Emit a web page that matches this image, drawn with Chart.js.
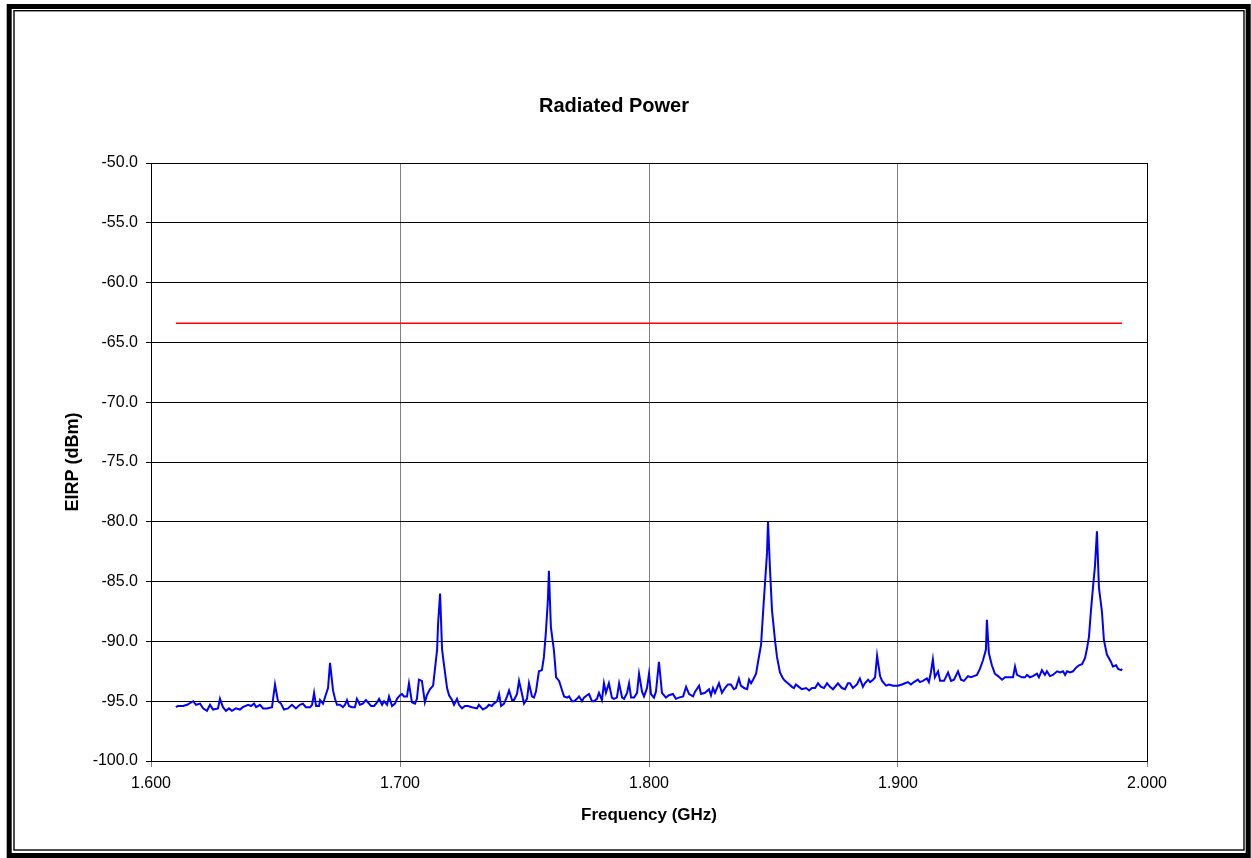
<!DOCTYPE html>
<html lang="en">
<head>
    <meta charset="UTF-8">
    <title>Radiated Power</title>
    <script src="https://cdn.jsdelivr.net/npm/chart.js"></script>
    <style>
        * { margin: 0; padding: 0; box-sizing: border-box; }
        body { background: #ffffff; width: 1251px; height: 858px; overflow: hidden; }
        #powerChart { display: block; }
    </style>
</head>
<body>
    <canvas id="powerChart" width="1251" height="858"></canvas>

    <script>
        // Measured spectrum (frequency in GHz, EIRP in dBm)
        const freqGHz = [
            1.6100, 1.6108, 1.6129, 1.6145, 1.6169, 1.6181, 1.6197, 1.6209, 1.6225, 1.6237,
            1.6249, 1.6269, 1.6277, 1.6289, 1.6301, 1.6313, 1.6325, 1.6341, 1.6357, 1.6369,
            1.6390, 1.6402, 1.6414, 1.6422, 1.6438, 1.6450, 1.6466, 1.6486, 1.6498, 1.6510,
            1.6522, 1.6534, 1.6550, 1.6566, 1.6582, 1.6598, 1.6610, 1.6622, 1.6639, 1.6647,
            1.6655, 1.6663, 1.6675, 1.6679, 1.6691, 1.6703, 1.6711, 1.6719, 1.6731, 1.6739,
            1.6747, 1.6759, 1.6771, 1.6779, 1.6787, 1.6795, 1.6807, 1.6819, 1.6827, 1.6839,
            1.6851, 1.6863, 1.6871, 1.6884, 1.6896, 1.6908, 1.6916, 1.6928, 1.6936, 1.6948,
            1.6956, 1.6968, 1.6980, 1.6988, 1.7000, 1.7008, 1.7016, 1.7028, 1.7036, 1.7048,
            1.7060, 1.7068, 1.7076, 1.7088, 1.7100, 1.7108, 1.7120, 1.7133, 1.7141, 1.7149,
            1.7153, 1.7161, 1.7169, 1.7177, 1.7189, 1.7197, 1.7209, 1.7217, 1.7229, 1.7237,
            1.7249, 1.7261, 1.7273, 1.7289, 1.7309, 1.7317, 1.7333, 1.7349, 1.7357, 1.7369,
            1.7377, 1.7390, 1.7398, 1.7406, 1.7418, 1.7430, 1.7438, 1.7450, 1.7458, 1.7470,
            1.7478, 1.7490, 1.7498, 1.7510, 1.7518, 1.7530, 1.7538, 1.7546, 1.7558, 1.7570,
            1.7578, 1.7586, 1.7594, 1.7598, 1.7606, 1.7618, 1.7627, 1.7639, 1.7651, 1.7659,
            1.7671, 1.7679, 1.7691, 1.7699, 1.7711, 1.7719, 1.7731, 1.7739, 1.7751, 1.7759,
            1.7771, 1.7779, 1.7791, 1.7799, 1.7811, 1.7819, 1.7827, 1.7839, 1.7851, 1.7859,
            1.7871, 1.7880, 1.7892, 1.7900, 1.7912, 1.7920, 1.7928, 1.7940, 1.7952, 1.7960,
            1.7972, 1.7980, 1.7992, 1.8000, 1.8008, 1.8020, 1.8028, 1.8040, 1.8052, 1.8068,
            1.8080, 1.8096, 1.8108, 1.8120, 1.8137, 1.8149, 1.8161, 1.8177, 1.8185, 1.8201,
            1.8209, 1.8225, 1.8241, 1.8249, 1.8257, 1.8265, 1.8281, 1.8293, 1.8305, 1.8317,
            1.8329, 1.8341, 1.8349, 1.8361, 1.8369, 1.8382, 1.8394, 1.8402, 1.8410, 1.8418,
            1.8430, 1.8438, 1.8450, 1.8458, 1.8466, 1.8474, 1.8478, 1.8486, 1.8494, 1.8506,
            1.8514, 1.8526, 1.8538, 1.8546, 1.8558, 1.8574, 1.8582, 1.8590, 1.8602, 1.8614,
            1.8631, 1.8643, 1.8655, 1.8667, 1.8679, 1.8691, 1.8703, 1.8715, 1.8727, 1.8739,
            1.8759, 1.8775, 1.8787, 1.8799, 1.8807, 1.8819, 1.8835, 1.8847, 1.8859, 1.8867,
            1.8880, 1.8888, 1.8900, 1.8908, 1.8916, 1.8928, 1.8936, 1.8952, 1.8964, 1.8980,
            1.9000, 1.9016, 1.9028, 1.9040, 1.9052, 1.9064, 1.9080, 1.9088, 1.9100, 1.9116,
            1.9124, 1.9132, 1.9140, 1.9148, 1.9161, 1.9169, 1.9185, 1.9201, 1.9213, 1.9225,
            1.9241, 1.9253, 1.9265, 1.9281, 1.9293, 1.9305, 1.9317, 1.9329, 1.9341, 1.9353,
            1.9357, 1.9365, 1.9377, 1.9389, 1.9402, 1.9418, 1.9430, 1.9442, 1.9462, 1.9470,
            1.9478, 1.9498, 1.9510, 1.9518, 1.9530, 1.9542, 1.9558, 1.9566, 1.9578, 1.9590,
            1.9598, 1.9610, 1.9622, 1.9639, 1.9651, 1.9663, 1.9671, 1.9679, 1.9691, 1.9703,
            1.9715, 1.9727, 1.9739, 1.9751, 1.9759, 1.9767, 1.9775, 1.9783, 1.9791, 1.9799,
            1.9807, 1.9819, 1.9827, 1.9839, 1.9855, 1.9863, 1.9876, 1.9884, 1.9896, 1.9900
        ];

        const eirpDbm = [
            -95.5, -95.4, -95.4, -95.3, -95.0, -95.3, -95.2, -95.6, -95.8, -95.3,
            -95.7, -95.6, -94.8, -95.5, -95.8, -95.6, -95.8, -95.6, -95.7, -95.5,
            -95.3, -95.4, -95.2, -95.5, -95.3, -95.6, -95.6, -95.5, -93.6, -95.0,
            -95.2, -95.7, -95.6, -95.3, -95.6, -95.3, -95.2, -95.5, -95.5, -95.3,
            -94.3, -95.4, -95.4, -94.9, -95.2, -94.4, -93.9, -91.8, -94.1, -94.8,
            -95.3, -95.3, -95.5, -95.3, -94.9, -95.4, -95.5, -95.5, -94.8, -95.3,
            -95.2, -94.9, -95.1, -95.4, -95.4, -95.1, -94.8, -95.3, -95.0, -95.3,
            -94.6, -95.4, -95.2, -94.8, -94.5, -94.4, -94.6, -94.6, -93.5, -95.1,
            -95.2, -94.8, -93.2, -93.3, -95.1, -94.5, -94.0, -93.7, -92.2, -90.7,
            -88.5, -86.0, -90.7, -92.0, -93.9, -94.5, -94.9, -95.3, -94.8, -95.3,
            -95.6, -95.4, -95.4, -95.5, -95.6, -95.3, -95.7, -95.5, -95.3, -95.4,
            -95.2, -95.0, -94.4, -95.4, -95.2, -94.6, -94.1, -94.9, -94.9, -94.4,
            -93.3, -94.4, -95.2, -94.8, -93.5, -94.6, -94.7, -94.2, -92.5, -92.4,
            -91.3, -89.2, -86.5, -84.1, -88.8, -90.7, -93.0, -93.3, -94.1, -94.6,
            -94.7, -94.6, -95.0, -95.0, -94.8, -94.6, -95.0, -94.7, -94.5, -94.4,
            -95.0, -95.0, -94.8, -94.3, -94.9, -93.5, -94.3, -93.5, -94.7, -94.8,
            -94.7, -93.5, -94.7, -94.8, -94.3, -93.5, -94.7, -94.7, -94.3, -92.7,
            -94.2, -94.6, -93.9, -92.7, -94.4, -94.7, -94.2, -91.7, -94.3, -94.7,
            -94.5, -94.4, -94.8, -94.7, -94.6, -93.8, -94.4, -94.6, -94.2, -93.7,
            -94.4, -94.3, -94.0, -94.5, -93.9, -94.3, -93.5, -94.3, -93.9, -93.6,
            -93.6, -94.0, -93.9, -93.1, -93.7, -93.9, -94.0, -93.2, -93.5, -93.2,
            -92.7, -91.7, -90.3, -87.6, -85.1, -82.6, -80.0, -84.0, -87.4, -89.9,
            -91.3, -92.6, -93.1, -93.3, -93.5, -93.8, -93.9, -93.6, -93.8, -94.0,
            -93.9, -94.1, -93.9, -93.9, -93.5, -93.8, -93.9, -93.5, -93.8, -94.0,
            -93.5, -93.9, -94.0, -93.5, -93.5, -93.9, -93.6, -93.1, -93.8, -93.5,
            -93.2, -93.4, -93.2, -93.0, -91.2, -92.9, -93.3, -93.7, -93.6, -93.7,
            -93.7, -93.6, -93.5, -93.4, -93.6, -93.4, -93.2, -93.4, -93.3, -93.1,
            -93.4, -92.6, -91.5, -93.0, -92.5, -93.3, -93.3, -92.6, -93.3, -93.2,
            -92.5, -93.2, -93.3, -92.9, -93.0, -92.9, -92.8, -92.3, -91.6, -90.7,
            -88.2, -91.0, -92.0, -92.7, -92.9, -93.2, -93.0, -93.0, -93.0, -92.1,
            -92.8, -93.0, -93.0, -92.8, -93.0, -92.9, -92.7, -93.0, -92.4, -92.8,
            -92.5, -92.9, -92.8, -92.5, -92.6, -92.5, -92.8, -92.5, -92.6, -92.5,
            -92.2, -92.0, -91.9, -91.4, -90.6, -89.6, -87.4, -85.5, -83.7, -80.8,
            -85.5, -87.5, -89.9, -91.1, -91.7, -92.1, -92.0, -92.3, -92.4, -92.3
        ];

        // Limit line
        const limitFreqGHz = [1.610, 1.990];
        const limitDbm = [-63.4, -63.4];

        // Axis ranges
        const xMin = 1.6, xMax = 2.0, xStep = 0.1;
        const yMin = -100, yMax = -50, yStep = 5;

        const toPoints = (xs, ys) => xs.map((x, i) => ({ x: x, y: ys[i] }));

        // Double frame round the page and the box round the plot area
        const framePlugin = {
            id: 'frames',
            beforeDraw(chart) {
                const ctx = chart.ctx;
                ctx.save();
                ctx.fillStyle = '#ffffff';
                ctx.fillRect(0, 0, chart.width, chart.height);
                ctx.strokeStyle = '#000000';
                ctx.lineWidth = 5;
                ctx.strokeRect(9.2, 6.5, 1239, 849);
                ctx.lineWidth = 1.4;
                ctx.strokeRect(14, 10.7, 1230, 839.3);
                ctx.restore();
            },
            afterDraw(chart) {
                const { left, top, right, bottom } = chart.chartArea;
                const ctx = chart.ctx;
                ctx.save();
                ctx.strokeStyle = '#000000';
                ctx.lineWidth = 1;
                ctx.strokeRect(Math.round(left) + 0.5, Math.round(top) + 0.5,
                    Math.round(right - left), Math.round(bottom - top));
                ctx.restore();
            }
        };

        const font = 'Liberation Sans, Arial, sans-serif';

        new Chart(document.getElementById('powerChart'), {
            type: 'line',
            data: {
                datasets: [
                    {
                        label: 'EIRP',
                        data: toPoints(freqGHz, eirpDbm),
                        borderColor: '#0000ff',
                        borderWidth: 2,
                        pointRadius: 0,
                        tension: 0,
                        fill: false
                    },
                    {
                        label: 'Limit',
                        data: toPoints(limitFreqGHz, limitDbm),
                        borderColor: '#ff0000',
                        borderWidth: 1.5,
                        pointRadius: 0,
                        tension: 0,
                        fill: false
                    }
                ]
            },
            options: {
                responsive: false,
                animation: false,
                devicePixelRatio: 1,
                // left padding shifts the centred title to where it sits in the original
                layout: { padding: { left: 81, right: 104, top: 0, bottom: 0 } },
                plugins: {
                    legend: { display: false },
                    tooltip: { enabled: false },
                    title: {
                        display: true,
                        text: 'Radiated Power',
                        color: '#000000',
                        font: { family: font, size: 20, weight: 'bold', lineHeight: 1.2 },
                        padding: { top: 94, bottom: 45 }
                    }
                },
                scales: {
                    x: {
                        type: 'linear',
                        min: xMin,
                        max: xMax,
                        afterFit: (scale) => { scale.height = 97; },
                        ticks: {
                            stepSize: xStep,
                            color: '#000000',
                            padding: 7,
                            font: { family: font, size: 16 },
                            callback: (v) => v.toFixed(3)
                        },
                        grid: { color: '#808080', lineWidth: 1, tickLength: 6 },
                        border: { display: true, color: '#000000', width: 1 },
                        title: {
                            display: true,
                            text: 'Frequency (GHz)',
                            color: '#000000',
                            font: { family: font, size: 17, weight: 'bold', lineHeight: 1.2 },
                            padding: { top: 0, bottom: 32.8 }
                        }
                    },
                    y: {
                        min: yMin,
                        max: yMax,
                        afterFit: (scale) => { scale.width = 70; },
                        ticks: {
                            stepSize: yStep,
                            color: '#000000',
                            padding: 8,
                            font: { family: font, size: 16 },
                            callback: (v) => v.toFixed(1)
                        },
                        grid: { color: '#000000', lineWidth: 1, tickLength: 5 },
                        border: { display: true, color: '#000000', width: 1 },
                        title: {
                            display: true,
                            text: 'EIRP (dBm)',
                            color: '#000000',
                            font: { family: font, size: 18, weight: 'bold', lineHeight: 1.2 },
                            padding: { top: -18.8, bottom: 0 }
                        }
                    }
                }
            },
            plugins: [framePlugin]
        });
    </script>
</body>
</html>
